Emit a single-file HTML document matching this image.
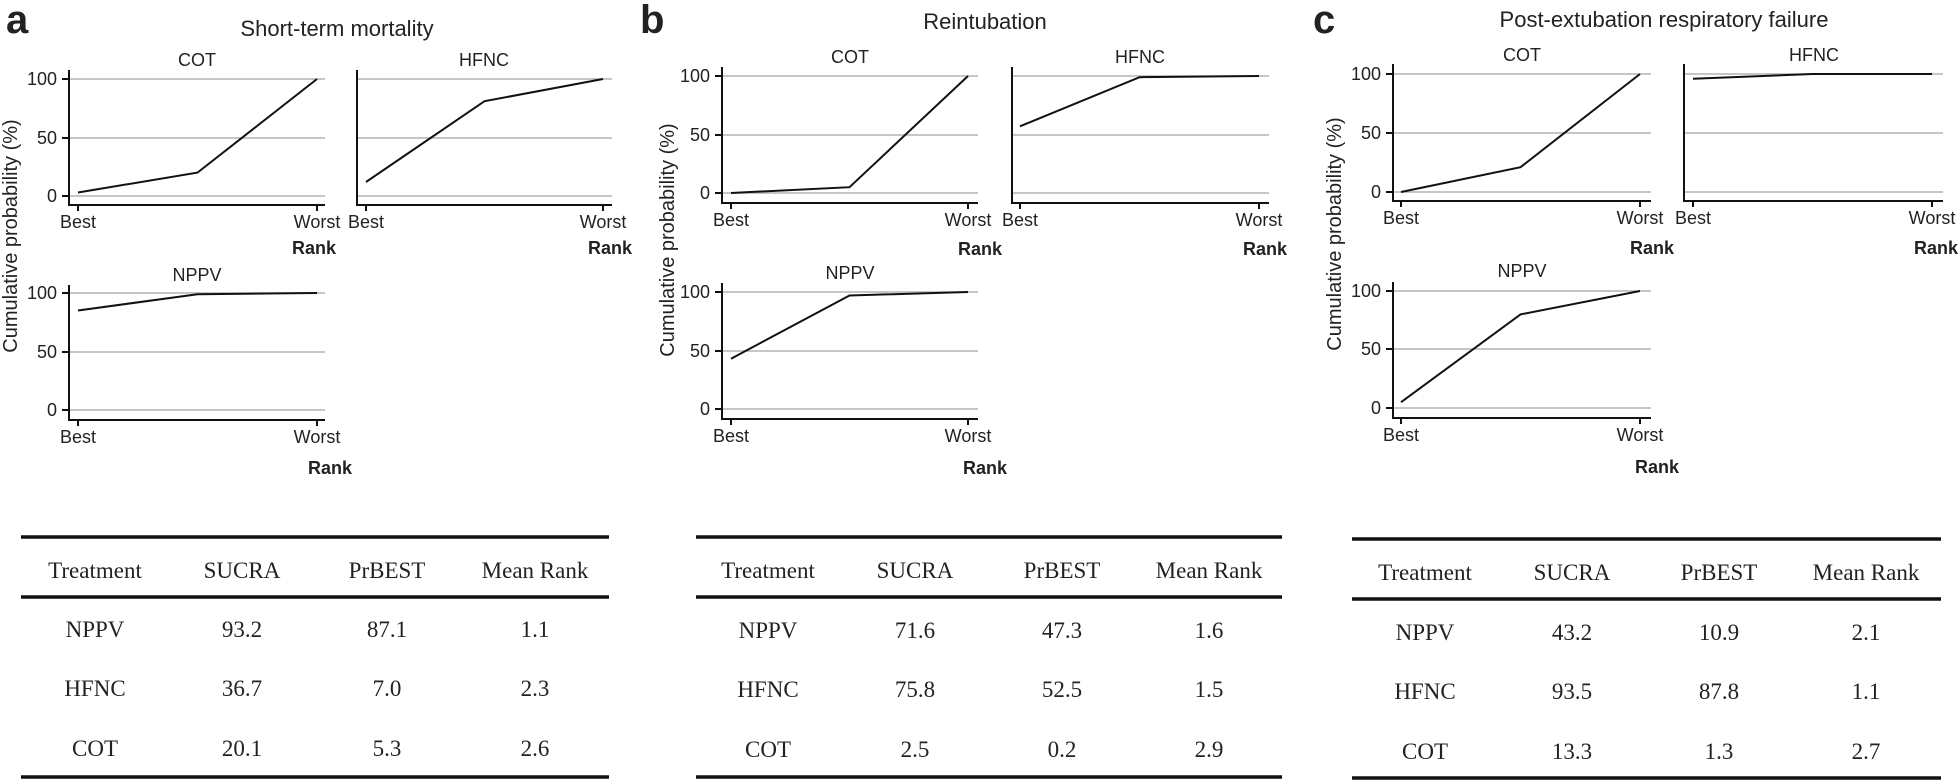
<!DOCTYPE html>
<html><head><meta charset="utf-8"><style>
html,body{margin:0;padding:0;background:#fff;}
svg{display:block;}
.s{font-family:"Liberation Sans",sans-serif;fill:#222;}
.t{font-size:18px;}
.ti{font-size:18px;text-anchor:middle;}
.mt{font-size:22px;text-anchor:middle;}
.rk{font-size:18px;font-weight:bold;text-anchor:middle;}
.yl{font-size:18px;text-anchor:end;}
.pl{font-size:40px;font-weight:bold;}
.ya{font-size:20px;text-anchor:middle;}
.tb{font-family:"Liberation Serif",serif;font-size:23px;fill:#222;text-anchor:middle;}
.g{stroke:#b4b4b4;stroke-width:1.6;}
.ax{stroke:#111;stroke-width:2;fill:none;}
.ln{stroke:#111;stroke-width:2;fill:none;}
.hl{stroke:#111;stroke-width:3.5;}
</style></head><body>
<svg width="1960" height="780" viewBox="0 0 1960 780" xmlns="http://www.w3.org/2000/svg">
<!-- ===== Panel a ===== -->
<text class="s pl" x="6" y="33">a</text>
<text class="s mt" x="337" y="36">Short-term mortality</text>
<text class="s ya" transform="translate(17,236) rotate(-90)">Cumulative probability (%)</text>
<!-- a COT -->
<text class="s ti" x="197" y="66">COT</text>
<line class="g" x1="69" y1="79" x2="325" y2="79"/><line class="g" x1="69" y1="138" x2="325" y2="138"/><line class="g" x1="69" y1="196" x2="325" y2="196"/>
<path class="ax" d="M69 70 V205 H325 M62 79 H69 M62 138 H69 M62 196 H69 M78 205 V211 M317 205 V211"/>
<text class="s yl" x="57" y="85">100</text><text class="s yl" x="57" y="144">50</text><text class="s yl" x="57" y="202">0</text>
<polyline class="ln" points="78,192.5 197.5,172.6 317,79"/>
<text class="s ti" x="78" y="228">Best</text><text class="s ti" x="317" y="228">Worst</text>
<text class="s rk" x="314" y="254">Rank</text>
<!-- a HFNC -->
<text class="s ti" x="484" y="66">HFNC</text>
<line class="g" x1="357" y1="79" x2="612" y2="79"/><line class="g" x1="357" y1="138" x2="612" y2="138"/><line class="g" x1="357" y1="196" x2="612" y2="196"/>
<path class="ax" d="M357 70 V205 H612 M366 205 V211 M603 205 V211"/>
<polyline class="ln" points="366,182 484.5,101.2 603,79"/>
<text class="s ti" x="366" y="228">Best</text><text class="s ti" x="603" y="228">Worst</text>
<text class="s rk" x="610" y="254">Rank</text>
<!-- a NPPV -->
<text class="s ti" x="197" y="281">NPPV</text>
<line class="g" x1="69" y1="293" x2="325" y2="293"/><line class="g" x1="69" y1="352" x2="325" y2="352"/><line class="g" x1="69" y1="410" x2="325" y2="410"/>
<path class="ax" d="M69 285 V420 H325 M62 293 H69 M62 352 H69 M62 410 H69 M78 420 V426 M317 420 V426"/>
<text class="s yl" x="57" y="299">100</text><text class="s yl" x="57" y="358">50</text><text class="s yl" x="57" y="416">0</text>
<polyline class="ln" points="78,310.5 197.5,294.2 317,293"/>
<text class="s ti" x="78" y="443">Best</text><text class="s ti" x="317" y="443">Worst</text>
<text class="s rk" x="330" y="474">Rank</text>

<!-- ===== Panel b ===== -->
<text class="s pl" x="640" y="33">b</text>
<text class="s mt" x="985" y="29">Reintubation</text>
<text class="s ya" transform="translate(674,240) rotate(-90)">Cumulative probability (%)</text>
<text class="s ti" x="850" y="63">COT</text>
<line class="g" x1="722" y1="76" x2="978" y2="76"/><line class="g" x1="722" y1="135" x2="978" y2="135"/><line class="g" x1="722" y1="193" x2="978" y2="193"/>
<path class="ax" d="M722 67 V203 H978 M715 76 H722 M715 135 H722 M715 193 H722 M731 203 V209 M968 203 V209"/>
<text class="s yl" x="710" y="82">100</text><text class="s yl" x="710" y="141">50</text><text class="s yl" x="710" y="199">0</text>
<polyline class="ln" points="731,193 849.5,187.2 968,76"/>
<text class="s ti" x="731" y="226">Best</text><text class="s ti" x="968" y="226">Worst</text>
<text class="s rk" x="980" y="255">Rank</text>
<text class="s ti" x="1140" y="63">HFNC</text>
<line class="g" x1="1012" y1="76" x2="1269" y2="76"/><line class="g" x1="1012" y1="135" x2="1269" y2="135"/><line class="g" x1="1012" y1="193" x2="1269" y2="193"/>
<path class="ax" d="M1012 67 V203 H1269 M1020 203 V209 M1259 203 V209"/>
<polyline class="ln" points="1020,126.3 1139.5,77.2 1259,76"/>
<text class="s ti" x="1020" y="226">Best</text><text class="s ti" x="1259" y="226">Worst</text>
<text class="s rk" x="1265" y="255">Rank</text>
<text class="s ti" x="850" y="279">NPPV</text>
<line class="g" x1="722" y1="292" x2="978" y2="292"/><line class="g" x1="722" y1="351" x2="978" y2="351"/><line class="g" x1="722" y1="409" x2="978" y2="409"/>
<path class="ax" d="M722 283 V419 H978 M715 292 H722 M715 351 H722 M715 409 H722 M731 419 V425 M968 419 V425"/>
<text class="s yl" x="710" y="298">100</text><text class="s yl" x="710" y="357">50</text><text class="s yl" x="710" y="415">0</text>
<polyline class="ln" points="731,358.7 849.5,295.5 968,292"/>
<text class="s ti" x="731" y="442">Best</text><text class="s ti" x="968" y="442">Worst</text>
<text class="s rk" x="985" y="474">Rank</text>

<!-- ===== Panel c ===== -->
<text class="s pl" x="1313" y="33">c</text>
<text class="s mt" x="1664" y="27">Post-extubation respiratory failure</text>
<text class="s ya" transform="translate(1341,234) rotate(-90)">Cumulative probability (%)</text>
<text class="s ti" x="1522" y="61">COT</text>
<line class="g" x1="1393" y1="74" x2="1651" y2="74"/><line class="g" x1="1393" y1="133" x2="1651" y2="133"/><line class="g" x1="1393" y1="192" x2="1651" y2="192"/>
<path class="ax" d="M1393 64 V201 H1651 M1386 74 H1393 M1386 133 H1393 M1386 192 H1393 M1401 201 V207 M1640 201 V207"/>
<text class="s yl" x="1381" y="80">100</text><text class="s yl" x="1381" y="139">50</text><text class="s yl" x="1381" y="198">0</text>
<polyline class="ln" points="1401,192 1520.5,167.2 1640,74"/>
<text class="s ti" x="1401" y="224">Best</text><text class="s ti" x="1640" y="224">Worst</text>
<text class="s rk" x="1652" y="254">Rank</text>
<text class="s ti" x="1814" y="61">HFNC</text>
<line class="g" x1="1684" y1="74" x2="1943" y2="74"/><line class="g" x1="1684" y1="133" x2="1943" y2="133"/><line class="g" x1="1684" y1="192" x2="1943" y2="192"/>
<path class="ax" d="M1684 64 V201 H1943 M1693 201 V207 M1932 201 V207"/>
<polyline class="ln" points="1693,78.7 1812.5,74 1932,74"/>
<text class="s ti" x="1693" y="224">Best</text><text class="s ti" x="1932" y="224">Worst</text>
<text class="s rk" x="1936" y="254">Rank</text>
<text class="s ti" x="1522" y="277">NPPV</text>
<line class="g" x1="1393" y1="291" x2="1651" y2="291"/><line class="g" x1="1393" y1="349" x2="1651" y2="349"/><line class="g" x1="1393" y1="408" x2="1651" y2="408"/>
<path class="ax" d="M1393 282 V418 H1651 M1386 291 H1393 M1386 349 H1393 M1386 408 H1393 M1401 418 V424 M1640 418 V424"/>
<text class="s yl" x="1381" y="297">100</text><text class="s yl" x="1381" y="355">50</text><text class="s yl" x="1381" y="414">0</text>
<polyline class="ln" points="1401,402.2 1520.5,314.4 1640,291"/>
<text class="s ti" x="1401" y="441">Best</text><text class="s ti" x="1640" y="441">Worst</text>
<text class="s rk" x="1657" y="473">Rank</text>

<!-- ===== Table a ===== -->
<line class="hl" x1="21" y1="537" x2="609" y2="537"/>
<line class="hl" x1="21" y1="597" x2="609" y2="597"/>
<line class="hl" x1="21" y1="777" x2="609" y2="777"/>
<text class="tb" x="95" y="578">Treatment</text><text class="tb" x="242" y="578">SUCRA</text><text class="tb" x="387" y="578">PrBEST</text><text class="tb" x="535" y="578">Mean Rank</text>
<text class="tb" x="95" y="637">NPPV</text><text class="tb" x="242" y="637">93.2</text><text class="tb" x="387" y="637">87.1</text><text class="tb" x="535" y="637">1.1</text>
<text class="tb" x="95" y="696">HFNC</text><text class="tb" x="242" y="696">36.7</text><text class="tb" x="387" y="696">7.0</text><text class="tb" x="535" y="696">2.3</text>
<text class="tb" x="95" y="756">COT</text><text class="tb" x="242" y="756">20.1</text><text class="tb" x="387" y="756">5.3</text><text class="tb" x="535" y="756">2.6</text>

<!-- ===== Table b ===== -->
<line class="hl" x1="696" y1="537" x2="1282" y2="537"/>
<line class="hl" x1="696" y1="597" x2="1282" y2="597"/>
<line class="hl" x1="696" y1="777" x2="1282" y2="777"/>
<text class="tb" x="768" y="578">Treatment</text><text class="tb" x="915" y="578">SUCRA</text><text class="tb" x="1062" y="578">PrBEST</text><text class="tb" x="1209" y="578">Mean Rank</text>
<text class="tb" x="768" y="638">NPPV</text><text class="tb" x="915" y="638">71.6</text><text class="tb" x="1062" y="638">47.3</text><text class="tb" x="1209" y="638">1.6</text>
<text class="tb" x="768" y="697">HFNC</text><text class="tb" x="915" y="697">75.8</text><text class="tb" x="1062" y="697">52.5</text><text class="tb" x="1209" y="697">1.5</text>
<text class="tb" x="768" y="757">COT</text><text class="tb" x="915" y="757">2.5</text><text class="tb" x="1062" y="757">0.2</text><text class="tb" x="1209" y="757">2.9</text>

<!-- ===== Table c ===== -->
<line class="hl" x1="1352" y1="539" x2="1941" y2="539"/>
<line class="hl" x1="1352" y1="599" x2="1941" y2="599"/>
<line class="hl" x1="1352" y1="778" x2="1941" y2="778"/>
<text class="tb" x="1425" y="580">Treatment</text><text class="tb" x="1572" y="580">SUCRA</text><text class="tb" x="1719" y="580">PrBEST</text><text class="tb" x="1866" y="580">Mean Rank</text>
<text class="tb" x="1425" y="640">NPPV</text><text class="tb" x="1572" y="640">43.2</text><text class="tb" x="1719" y="640">10.9</text><text class="tb" x="1866" y="640">2.1</text>
<text class="tb" x="1425" y="699">HFNC</text><text class="tb" x="1572" y="699">93.5</text><text class="tb" x="1719" y="699">87.8</text><text class="tb" x="1866" y="699">1.1</text>
<text class="tb" x="1425" y="759">COT</text><text class="tb" x="1572" y="759">13.3</text><text class="tb" x="1719" y="759">1.3</text><text class="tb" x="1866" y="759">2.7</text>
</svg>
</body></html>
